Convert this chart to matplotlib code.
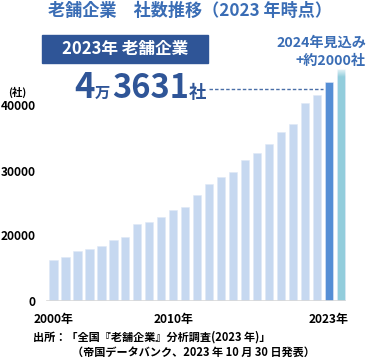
import numpy as np
import matplotlib
matplotlib.use("Agg")
import matplotlib.pyplot as plt
from matplotlib.lines import Line2D
from matplotlib.patches import Rectangle

plt.rcParams['font.family'] = ['Noto Sans CJK JP', 'DejaVu Sans']

# 老舗企業の社数 (2000年〜2023年) と 2024年見込み
years = list(range(2000, 2025))
counts = [16300, 16650, 17550, 18000, 18450, 19250, 19750, 21700, 22150, 22800,
          23850, 24450, 26300, 27900, 29000, 29750, 31600, 32700, 34100, 35900,
          37200, 40400, 41550, 43631, 45631]
ytick_vals = [10000, 20000, 30000, 40000]
ytick_labels = ["0", "20000", "30000", "40000"]
xtick_years = [2000, 2010, 2023]

c_light = "#c6d8f0"
c_2023 = "#558ed5"
c_2024 = "#92cddc"
c_title = "#3a6db5"
c_dark = "#2f5597"

W, H = 376, 360
fig = plt.figure(figsize=(W / 100, H / 100), dpi=100)

def fx(px):
    return px / W

def fy(py):
    return 1 - py / H

ax = fig.add_axes([fx(44), fy(300.5), fx(350) - fx(44), fy(60) - fy(300.5)])

x = np.arange(len(years))
colors = [c_light] * (len(years) - 2) + [c_2023, c_2024]
base = ytick_vals[0]
heights = [c - base for c in counts]
ax.bar(x, heights, bottom=base, width=0.7, color=colors, edgecolor="#dfe8f6",
       linewidth=0.4)

# 2024年バーの上端をぼかす
fade = np.ones((50, 1, 4))
fade[:, 0, 3] = np.linspace(0.9, 0.0, 50)
ax.imshow(fade, extent=(x[-1] - 0.35, x[-1] + 0.35, counts[-1] - 1300, counts[-1]),
          aspect="auto", origin="upper", zorder=3)

ax.axhline(base, xmin=0.01, xmax=0.985, color="#d9d9d9", lw=1.2, zorder=4)

ax.set_xlim(-0.79, 24.77)
ax.set_ylim(base, 47000)
ax.set_yticks(ytick_vals)
ax.set_yticklabels(ytick_labels, fontsize=8.6, fontweight="bold")
ax.set_xticks([years.index(y) for y in xtick_years])
ax.set_xticklabels([f"{y}年" for y in xtick_years], fontsize=8.6, fontweight="bold")
ax.tick_params(axis="y", length=0, pad=6)
ax.tick_params(axis="x", length=0, pad=9)
for s in ax.spines.values():
    s.set_visible(False)

# タイトル
fig.text(fx(190), fy(11), "老舗企業　社数推移（2023 年時点）", fontsize=12.3,
         fontweight="bold", color=c_title, ha="center", va="center")

# 2023年 老舗企業 ボックス
fig.patches.append(Rectangle((fx(42), fy(63)), fx(208) - fx(42), fy(35) - fy(63),
                             transform=fig.transFigure, color=c_dark, zorder=0))
fig.text(fx(125), fy(49), "2023年 老舗企業", fontsize=12, fontweight="bold",
         color="white", ha="center", va="center")

# 4万3631社
by = fy(98)
fig.text(fx(74), by, "4", fontsize=25, fontweight="bold", color=c_dark, va="baseline")
fig.text(fx(95), by, "万", fontsize=11, fontweight="bold", color=c_dark, va="baseline")
fig.text(fx(112), by, "3631", fontsize=23.5, fontweight="bold", color=c_dark,
         va="baseline")
fig.text(fx(189), by, "社", fontsize=12.5, fontweight="bold", color=c_dark,
         va="baseline")
fig.lines.append(Line2D([fx(209), fx(323)], [fy(89), fy(89)], transform=fig.transFigure,
                        color="#4a6fa8", lw=1.0, dashes=(2.5, 1.5)))

# 2024年見込み
fig.text(fx(366), fy(43), "2024年見込み", fontsize=10.2, fontweight="bold",
         color=c_title, ha="right", va="center")
fig.text(fx(366), fy(61), "+約2000社", fontsize=10.2, fontweight="bold",
         color=c_title, ha="right", va="center")

fig.text(fx(17), fy(92), "(社)", fontsize=7.5, fontweight="bold", ha="center",
         va="center")

# 出所
fig.text(fx(33), fy(337), "出所：「全国『老舗企業』分析調査(2023 年)」", fontsize=8,
         fontweight="bold", va="center")
fig.text(fx(193), fy(352), "（帝国データバンク、2023 年 10 月 30 日発表）", fontsize=8,
         fontweight="bold", ha="center", va="center")

fig.savefig("out.png", dpi=100)
